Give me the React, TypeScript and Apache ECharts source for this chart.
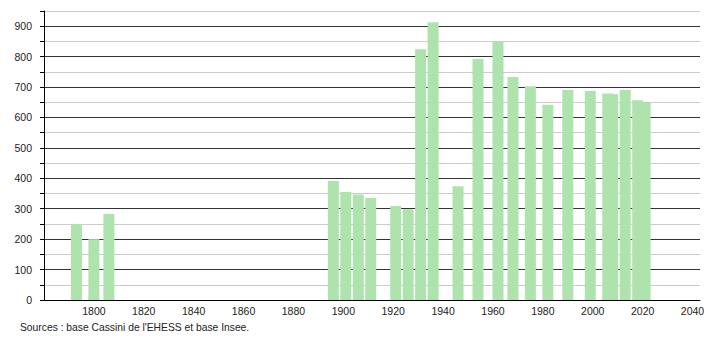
import React, { useEffect, useRef } from "react";
import * as echarts from "echarts";

const years = [1793, 1800, 1806, 1896, 1901, 1906, 1911, 1921, 1926, 1931, 1936, 1946, 1954, 1962, 1968, 1975, 1982, 1990, 1999, 2006, 2008, 2013, 2018, 2021];
const population = [250, 200, 283, 391, 355, 347, 335, 309, 298, 824, 913, 374, 792, 850, 733, 703, 642, 690, 687, 679, 676, 690, 657, 650];
const sourceText = "Sources : base Cassini de l'EHESS et base Insee.";

export default function App() {
  const ref = useRef<HTMLDivElement>(null);
  useEffect(() => {
    if (!ref.current) return;
    const chart = echarts.init(ref.current, null, { renderer: "svg" });
    const font = "'Liberation Sans', Arial, sans-serif";
    chart.setOption({
      animation: false,
      textStyle: { fontFamily: font },
      grid: { left: 44, right: 10, top: 11, bottom: 40, containLabel: false },
      xAxis: {
        type: "value",
        min: 1780,
        max: 2043,
        interval: 20,
        axisLine: { show: true, lineStyle: { color: "#000", width: 1 } },
        axisTick: { show: false },
        splitLine: { show: false },
        axisLabel: {
          margin: 5,
          fontSize: 10.5,
          color: "#222",
          fontFamily: font,
          formatter: (v: number) => (v % 20 === 0 && v > 1780 ? String(v) : ""),
        },
      },
      yAxis: {
        type: "value",
        min: 0,
        max: 950,
        interval: 50,
        axisLine: { show: true, lineStyle: { color: "#000", width: 1 } },
        axisTick: { show: true, length: 4, lineStyle: { color: "#000" } },
        splitLine: { show: true, lineStyle: { color: ["#333", "#cccccc"], width: 1 } },
        axisLabel: {
          margin: 12,
          fontSize: 10.5,
          color: "#222",
          fontFamily: font,
          formatter: (v: number) => (v % 100 === 0 ? String(v) : ""),
        },
      },
      series: [
        {
          type: "bar",
          data: years.map((y, i) => [y, population[i]]),
          barWidth: 11,
          itemStyle: { color: "#aee3ae" },
        },
      ],
      graphic: [
        {
          type: "text",
          left: 20,
          top: 322,
          style: { text: sourceText, fontSize: 10.3, fill: "#222", fontFamily: font },
        },
      ],
    });
    return () => chart.dispose();
  }, []);
  return <div ref={ref} style={{ width: 710, height: 340, position: "absolute", left: 0, top: 0 }} />;
}
